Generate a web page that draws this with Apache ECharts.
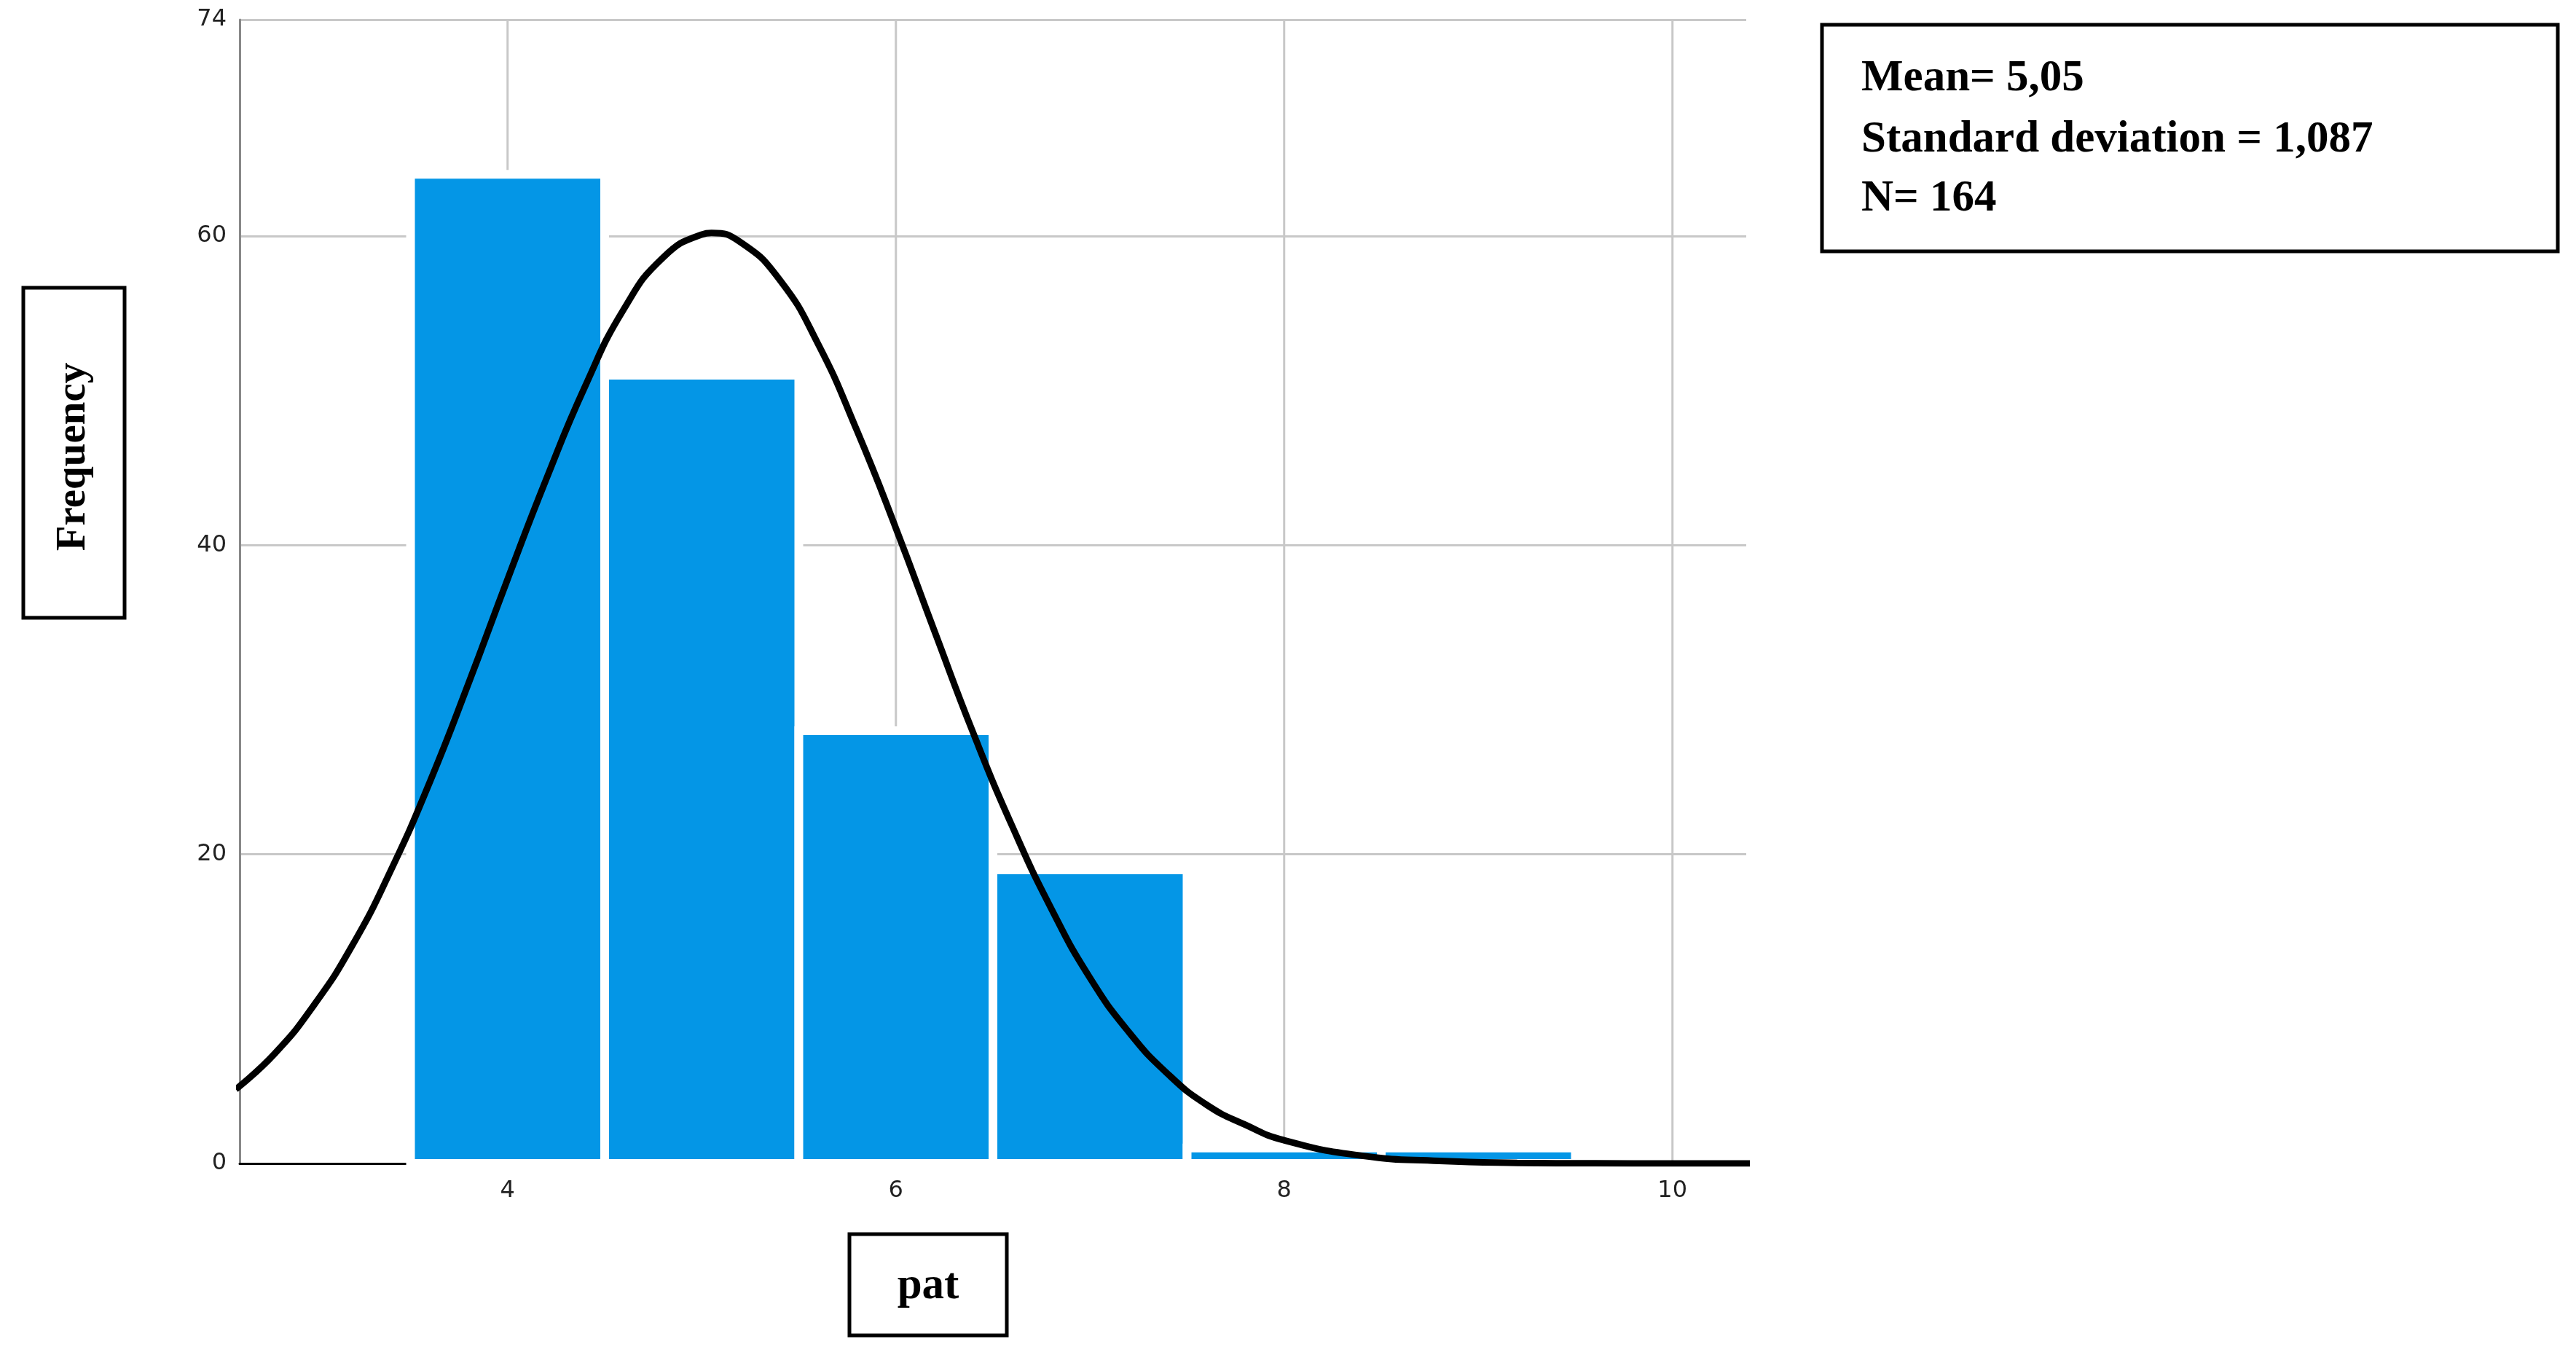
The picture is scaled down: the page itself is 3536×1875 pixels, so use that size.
<!DOCTYPE html>
<html>
<head>
<meta charset="utf-8">
<script src="https://cdn.jsdelivr.net/npm/echarts@6/dist/echarts.min.js"></script>
<style>html,body{margin:0;padding:0;background:#fff}#main{width:3536px;height:1875px}</style>
</head>
<body>
<div id="main"></div>
<script>
// histogram bins (centre) and counts
var binCenters = [4, 5, 6, 7, 8, 9];
var binCounts = [64, 51, 28, 19, 1, 1];
// fitted normal curve
var curveX = [2.6, 2.8, 3.0, 3.2, 3.4, 3.6, 3.8, 4.0, 4.2, 4.4, 4.6, 4.8, 5.0, 5.05, 5.2, 5.4, 5.6, 5.8, 6.0, 6.2, 6.4, 6.6, 6.8, 7.0, 7.2, 7.4, 7.6, 7.8, 8.0, 8.4, 8.8, 9.2, 9.6, 10.0, 10.4];
var curveY = [4.8, 7.1, 10.2, 14.1, 19.0, 24.7, 31.1, 37.8, 44.3, 50.3, 55.3, 58.6, 60.1, 60.2, 59.6, 57.2, 53.0, 47.4, 41.1, 34.4, 27.8, 21.8, 16.5, 12.0, 8.5, 5.8, 3.8, 2.5, 1.5, 0.5, 0.16, 0.04, 0.01, 0, 0];
var xTicks = [4, 6, 8, 10];
var statLines = ['Mean= 5,05', 'Standard deviation = 1,087', 'N= 164'];

var chart = echarts.init(document.getElementById('main'));

var histData = binCenters.map(function (c, i) { return [c, binCounts[i]]; });
var lineData = curveX.map(function (x, i) { return [x, curveY[i]]; });

var option = {
	backgroundColor: '#fff',
	animation: false,
	grid: { left: 329, right: 3536 - 2397, top: 27, bottom: 1875 - 1597 },
	xAxis: {
		type: 'value', min: 2.62, max: 10.38,
		axisLine: { show: true, onZero: false, lineStyle: { color: '#000', width: 3 } },
		axisTick: { show: false },
		splitLine: { show: false },
		axisLabel: {
			fontSize: 32, color: '#222', margin: 22, fontFamily: 'DejaVu Sans',
			customValues: xTicks,
			formatter: function (v) { return xTicks.indexOf(v) >= 0 ? v : ''; }
		}
	},
	yAxis: {
		type: 'value', min: 0, max: 74, interval: 20,
		axisLine: { show: true, lineStyle: { color: '#888', width: 3 } },
		axisTick: { show: false },
		splitLine: { show: true, lineStyle: { color: '#c8c8c8', width: 3 } },
		axisLabel: { fontSize: 32, color: '#222', margin: 18, fontFamily: 'DejaVu Sans' }
	},
	series: [
		{
			// vertical grid lines at the x ticks
			type: 'custom', silent: true, z: 1,
			data: xTicks.map(function (t) { return [t]; }),
			renderItem: function (params, api) {
				var p0 = api.coord([api.value(0), 0]);
				return {
					type: 'line',
					shape: { x1: p0[0], y1: p0[1], x2: p0[0], y2: params.coordSys.y },
					style: { stroke: '#c8c8c8', lineWidth: 3 }
				};
			}
		},
		{
			type: 'custom', z: 2,
			data: histData,
			renderItem: function (params, api) {
				var c = api.value(0), n = api.value(1);
				var a = api.coord([c - 0.5, n]);
				var b = api.coord([c + 0.5, 0]);
				return {
					type: 'rect',
					shape: { x: a[0], y: a[1], width: b[0] - a[0], height: b[1] - a[1] },
					style: { fill: '#0496e6', stroke: '#ffffff', lineWidth: 12 }
				};
			}
		},
		{
			type: 'line', z: 3, smooth: true, symbol: 'none',
			data: lineData,
			lineStyle: { color: '#000', width: 9 }
		}
	],
	graphic: [
		{ type: 'rect', shape: { x: 2501, y: 34, width: 1010, height: 311 }, style: { fill: '#fff', stroke: '#000', lineWidth: 5 } },
		{ type: 'text', x: 2555, y: 108, style: { text: statLines[0], font: 'bold 61px "Liberation Serif"', fill: '#000', verticalAlign: 'middle' } },
		{ type: 'text', x: 2555, y: 192, style: { text: statLines[1], font: 'bold 61px "Liberation Serif"', fill: '#000', verticalAlign: 'middle' } },
		{ type: 'text', x: 2555, y: 273, style: { text: statLines[2], font: 'bold 61px "Liberation Serif"', fill: '#000', verticalAlign: 'middle' } },
		{ type: 'rect', shape: { x: 32, y: 395, width: 139, height: 453 }, style: { fill: '#fff', stroke: '#000', lineWidth: 5 } },
		{ type: 'text', x: 101, y: 627, rotation: Math.PI / 2, style: { text: 'Frequency', font: 'bold 57px "Liberation Serif"', fill: '#000', align: 'center', verticalAlign: 'middle' } },
		{ type: 'rect', shape: { x: 1166, y: 1694, width: 216, height: 139 }, style: { fill: '#fff', stroke: '#000', lineWidth: 5 } },
		{ type: 'text', x: 1274, y: 1766, style: { text: 'pat', font: 'bold 61px "Liberation Serif"', fill: '#000', align: 'center', verticalAlign: 'middle' } }
	]
};
chart.setOption(option);
</script>
</body>
</html>
